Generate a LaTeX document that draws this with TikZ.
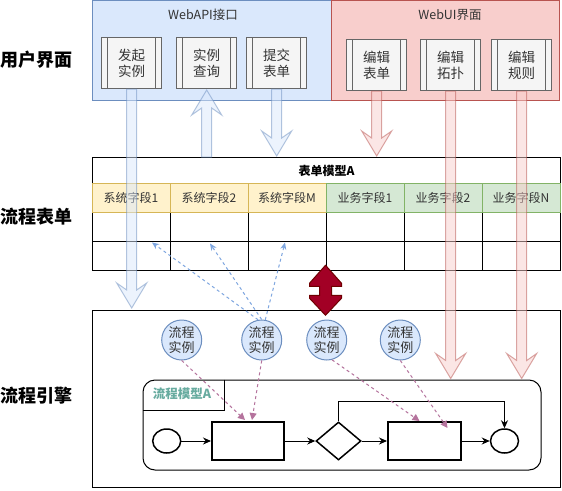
\documentclass[tikz,border=0pt]{standalone}
\usepackage{fontspec}
\setmainfont{Noto Sans CJK SC}
\usetikzlibrary{arrows.meta,calc,shapes.geometric}
\definecolor{bluefill}{HTML}{DAE8FC}
\definecolor{bluestroke}{HTML}{6C8EBF}
\definecolor{redfill}{HTML}{F8CECC}
\definecolor{redstroke}{HTML}{B85450}
\definecolor{grayfill}{HTML}{F5F5F5}
\definecolor{graystroke}{HTML}{666666}
\definecolor{txt}{HTML}{333333}
\definecolor{yelfill}{HTML}{FFF2CC}
\definecolor{yelstroke}{HTML}{D6B656}
\definecolor{grnfill}{HTML}{D5E8D4}
\definecolor{grnstroke}{HTML}{82B366}
\definecolor{dashblue}{HTML}{7EA6E0}
\definecolor{dashpink}{HTML}{B5739D}
\definecolor{darkred}{HTML}{A20025}
\definecolor{darkredstroke}{HTML}{6F0000}
\definecolor{tealtxt}{HTML}{67AB9F}
\newcommand{\flexarrow}[3]{%
  \coordinate (faJ) at ($(#3)!18pt!(#2)$);
  \coordinate (faC) at ($(#3)!25pt!(#2)$);
  \path[#1] ($(#2)!5pt!90:(#3)$) -- ($(faJ)!5pt!90:(#3)$) -- ($(faC)!15pt!90:(#3)$)
    -- (#3) -- ($(faC)!15pt!-90:(#3)$) -- ($(faJ)!5pt!-90:(#3)$) -- ($(#2)!5pt!-90:(#3)$) -- cycle;}
\tikzset{
  sidelabel/.style={font=\fontsize{18}{20}\selectfont\bfseries, text=black},
  container/.style={anchor=north west, inner sep=0pt},
  grouptitle/.style={font=\fontsize{12.5}{14}\selectfont, text=txt},
  procbox/.style={draw=graystroke, fill=grayfill, minimum width=60pt, minimum height=51pt,
    inner sep=0pt, text=txt, font=\fontsize{13.5}{16}\selectfont, align=center,
    path picture={
      \draw[graystroke] ([xshift=6pt]path picture bounding box.north west) -- ([xshift=6pt]path picture bounding box.south west);
      \draw[graystroke] ([xshift=-6pt]path picture bounding box.north east) -- ([xshift=-6pt]path picture bounding box.south east);}},
  tcell/.style={draw=black, minimum width=78pt, minimum height=29pt, inner sep=0pt},
  fieldy/.style={tcell, draw=yelstroke, fill=yelfill, text=txt, font=\fontsize{12}{14}\selectfont},
  fieldg/.style={tcell, draw=grnstroke, fill=grnfill, text=txt, font=\fontsize{12}{14}\selectfont},
  inst/.style={circle, draw=bluestroke, fill=bluefill, minimum size=40pt, inner sep=0pt,
    align=center, text=txt, font=\fontsize{13}{15}\selectfont},
  evt/.style={ellipse, draw=black, line width=1.5pt, minimum width=28pt, minimum height=24pt, inner sep=0pt},
  task/.style={draw=black, line width=2pt, minimum height=38pt, inner sep=0pt},
  gate/.style={diamond, draw=black, line width=1.5pt, minimum width=45pt, minimum height=38pt, inner sep=0pt},
  flow/.style={draw=black, line width=1pt, -{Stealth[length=8pt,width=7pt]}},
  bdash/.style={draw=dashblue, line width=1pt, dash pattern=on 3pt off 3pt, -{Stealth[length=7pt,width=6pt]}},
  pdash/.style={draw=dashpink, line width=1pt, dash pattern=on 3pt off 3pt, -{Triangle[length=7pt,width=7pt]}},
  flexblue/.style={draw=bluestroke, fill=bluefill, opacity=0.5, line width=1pt},
  flexred/.style={draw=redstroke, fill=redfill, opacity=0.5, line width=1pt},
  dblarrow/.style={draw=darkredstroke, fill=darkred, line width=1pt}
}
\begin{document}
\begin{tikzpicture}[x=1pt,y=-1pt,line width=1pt]
\useasboundingbox[fill=white] (0,0) rectangle (562,490);
% side labels
\node[sidelabel] (lab1) at (36,60) {用户界面};
\node[sidelabel] (lab2) at (36,217) {流程表单};
\node[sidelabel] (lab3) at (36,396) {流程引擎};
% user interface containers
\node[container, draw=bluestroke, fill=bluefill, minimum width=239pt, minimum height=100pt] (api) at (92,0) {};
\node[container, draw=redstroke, fill=redfill, minimum width=228pt, minimum height=100pt] (ui) at (331,0) {};
\node[grouptitle] (apit) at (203,15) {WebAPI接口};
\node[grouptitle] (uit) at (450,15) {WebUI界面};
\node[procbox] (b1) at (131.7,63) {发起\\实例};
\node[procbox] (b2) at (206.7,63) {实例\\查询};
\node[procbox] (b3) at (276.7,63) {提交\\表单};
\node[procbox] (r1) at (376.7,65) {编辑\\表单};
\node[procbox] (r2) at (450.7,65) {编辑\\拓扑};
\node[procbox] (r3) at (521.7,65) {编辑\\规则};
% table
\node[container, draw=black, minimum width=468pt, minimum height=26pt] (hdr) at (92,157) {};
\node[font=\fontsize{12}{14}\selectfont\bfseries] (hdrt) at (hdr.center) {表单模型A};
\foreach \i in {1,...,6} {
  \node[tcell] (ra\i) at ({92+78*(\i-0.5)},226.5) {};
  \node[tcell] (rb\i) at ({92+78*(\i-0.5)},255.5) {};
}
\foreach \i/\t in {1/系统字段1,2/系统字段2,3/系统字段M}
  \node[fieldy] (f\i) at ({92+78*(\i-0.5)},197.5) {\t};
\foreach \i/\t in {4/业务字段1,5/业务字段2,6/业务字段N}
  \node[fieldg] (f\i) at ({92+78*(\i-0.5)},197.5) {\t};
% engine
\node[container, draw=black, minimum width=468pt, minimum height=177pt] (eng) at (92,310) {};
\node[draw=black, rounded corners=12pt, minimum width=398pt, minimum height=90pt, inner sep=0pt] (model) at (342,425) {};
\coordinate (lbr) at (224,410);
\draw (lbr |- model.north) -- (lbr) -- (lbr -| model.west);
\node[font=\fontsize{12.5}{14}\selectfont\bfseries, text=tealtxt] (modelt) at (182,394) {流程模型A};
\node[inst] (i1) at (181.7,340) {流程\\实例};
\node[inst] (i2) at (261.7,340) {流程\\实例};
\node[inst] (i3) at (326.7,340) {流程\\实例};
\node[inst] (i4) at (400.3,340) {流程\\实例};
% process flow
\node[evt] (s) at (166.7,441) {};
\node[task, minimum width=72pt] (t1) at (248,441) {};
\node[gate] (g) at (338.5,441) {};
\node[task, minimum width=73pt] (t2) at (424.5,441) {};
\node[evt] (e) at (504.5,441) {};
\draw[flow] (s) -- (t1);
\draw[flow] (t1) -- (g);
\draw[flow] (g) -- (t2);
\draw[flow] (t2) -- (e);
\coordinate (lp) at (0,401);
\draw[flow] (g.north) -- (g.north |- lp) -| (e.north);
% dashed links
\draw[bdash] (i2.100) -- ($(rb1.north)+(21,2)$);
\draw[bdash] (i2.north) -- ($(rb2.north)+(1,3)$);
\draw[bdash] (i2.80) -- ($(rb3.north)+(-2,2)$);
\draw[pdash] (i1.south) -- ($(t1.north)+(-3,-1)$);
\draw[pdash] (i2.south) -- ($(t1.north)+(4,-1)$);
\draw[pdash] (i3.-75) -- ($(t2.north)+(-5,0)$);
\draw[pdash] (i4.south) -- ($(t2.north)+(23,7)$);
% flex arrows
\flexarrow{flexblue}{b1.south}{$(b1.south |- eng.north)+(0,-2)$}
\flexarrow{flexblue}{b2.south |- hdr.north}{$(b2.south)+(0,1)$}
\flexarrow{flexblue}{b3.south}{$(b3.south |- hdr.north)+(0,-1)$}
\flexarrow{flexred}{r1.south}{$(r1.south |- hdr.north)+(0,-1)$}
\flexarrow{flexred}{r2.south}{$(r2.south |- model.north)+(0,-1)$}
\flexarrow{flexred}{r3.south}{$(r3.south |- model.north)+(0,-1)$}
% double arrow between form and engine
\coordinate (dbl) at ($(rb4.south west)!0.5!(rb4.south west |- eng.north)$);
\draw[dblarrow] ($(dbl)+(0,-25)$) -- ++(16,18) -- ++(0,3) -- ++(-10,0) -- ++(0,9) -- ++(10,0) -- ++(0,3)
  -- ($(dbl)+(0,25)$) -- ++(-16,-17) -- ++(0,-3) -- ++(10,0) -- ++(0,-9) -- ++(-10,0) -- ++(0,-3) -- cycle;
\end{tikzpicture}
\end{document}
